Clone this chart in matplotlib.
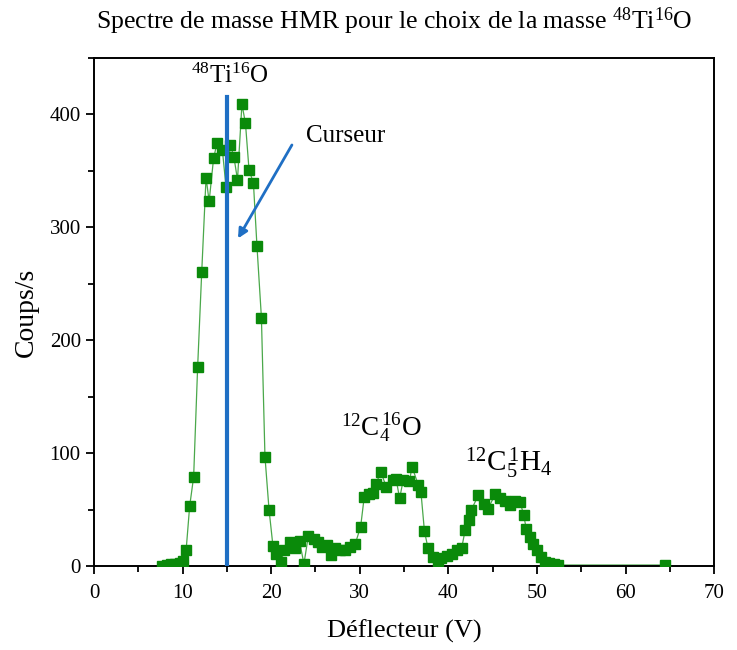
import matplotlib.pyplot as plt
from matplotlib.ticker import MultipleLocator

plt.rcParams['font.family'] = ['Liberation Serif', 'DejaVu Serif']
plt.rcParams['mathtext.fontset'] = 'custom'
plt.rcParams['mathtext.rm'] = 'Liberation Serif'
plt.rcParams['mathtext.it'] = 'Liberation Serif:italic'

# spectre mesure : tension du deflecteur (V) et coups/s
deflecteur = [7.7, 8.2, 8.7, 9.2, 9.7, 10.0, 10.4, 10.8, 11.25, 11.7,
              12.16, 12.65, 13.0, 13.5, 13.9, 14.5, 14.9, 15.4, 15.8, 16.2,
              16.7, 17.1, 17.5, 18.0, 18.4, 18.9, 19.3, 19.76, 20.2, 20.6,
              21.1, 21.5, 22.1, 22.7, 23.2, 23.7, 24.2, 24.8, 25.3, 25.7,
              26.3, 26.8, 27.2, 27.8, 28.3, 28.9, 29.5, 30.1, 30.5, 31.0,
              31.5, 31.8, 32.4, 33.0, 33.7, 34.1, 34.5, 34.9, 35.6, 35.9,
              36.6, 36.9, 37.3, 37.7, 38.3, 38.8, 39.2, 39.8, 40.4, 41.0,
              41.5, 41.9, 42.3, 42.6, 43.4, 44.0, 44.5, 45.3, 45.8, 46.4,
              47.0, 47.5, 48.1, 48.5, 48.8, 49.2, 49.6, 50.0, 50.4, 50.9,
              51.4, 51.9, 52.4, 64.5]
coups = [0.5, 1, 1.5, 2, 3, 5, 14, 53, 79, 176,
         260, 344, 323, 361, 375, 368, 336, 373, 362, 342,
         409, 392, 351, 339, 283, 220, 97, 50, 18, 11,
         4, 14, 21, 16, 22, 2, 27, 24, 21, 17,
         19, 10, 16, 14, 14, 17, 20, 35, 61, 64,
         65, 73, 83, 70, 76, 77, 60, 76, 75, 88,
         72, 66, 31, 16, 8, 5, 7, 9, 11, 14,
         16, 32, 41, 50, 63, 55, 51, 64, 60, 58,
         54, 58, 57, 45, 33, 26, 20, 14, 8, 4,
         3, 2, 1, 1]

curseur = 15.0

fig = plt.figure(figsize=(7.37, 6.5), dpi=100)
ax = fig.add_axes([0.1275, 0.129, 0.8415, 0.782])

ax.plot(deflecteur, coups, color='#4aa84a', lw=0.9, zorder=2)
ax.plot(deflecteur, coups, ls='none', marker='s', ms=7,
        color='#0a8a0a', mec='#0a8a0a', zorder=3)

ax.plot([curseur, curseur], [0, 415], color='#1f6fc4', lw=3, zorder=4)
ax.annotate('', xy=(16.1, 288), xytext=(22.5, 375),
            arrowprops=dict(arrowstyle='-|>', color='#1f6fc4', lw=2,
                            mutation_scale=14))
ax.text(23.9, 381, 'Curseur', fontsize=18, va='center', ha='left')

ax.text(15.3, 434, r'$\mathrm{^{48}Ti^{16}O}$', fontsize=18,
        ha='center', va='center')
ax.text(32.4, 122, r'$\mathrm{^{12}C_4^{\,16}O}$', fontsize=19.5,
        ha='center', va='center')
ax.text(46.8, 91, r'$\mathrm{^{12}C_5^{\,1}H_4}$', fontsize=21,
        ha='center', va='center')

ax.set_xlim(0, 70)
ax.set_ylim(0, 450)
ax.xaxis.set_major_locator(MultipleLocator(10))
ax.xaxis.set_minor_locator(MultipleLocator(5))
ax.yaxis.set_major_locator(MultipleLocator(100))
ax.yaxis.set_minor_locator(MultipleLocator(50))
ax.tick_params(which='major', direction='out', length=6, width=1.3,
               labelsize=15)
ax.tick_params(axis='x', which='major', pad=7)
ax.tick_params(which='minor', direction='out', length=4, width=1.3)
for s in ax.spines.values():
    s.set_linewidth(1.4)

ax.set_xlabel('Déflecteur (V)', fontsize=19, labelpad=12)
ax.set_ylabel('Coups/s', fontsize=20, labelpad=8)
fig.text(0.535, 0.968, r'Spectre de masse HMR pour le choix de la masse '
         r'$\mathrm{^{48}Ti^{16}O}$', fontsize=18.5, ha='center', va='center')

fig.savefig('out.png', dpi=100)
